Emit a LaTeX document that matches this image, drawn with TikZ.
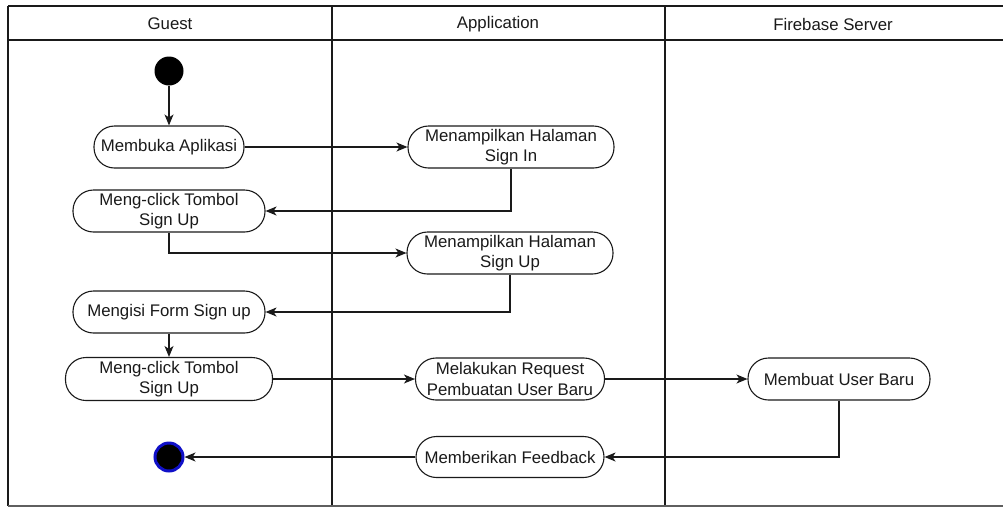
\documentclass[tikz,border=0pt]{standalone}
\usepackage{fontspec}
\setmainfont{Liberation Sans}
\usetikzlibrary{arrows.meta}
\definecolor{ink}{HTML}{1A1A1A}
\definecolor{ringblue}{HTML}{1010C8}
\begin{document}
\begin{tikzpicture}[x=1pt,y=-1pt,
  font=\fontsize{16.8}{20.5}\selectfont,
  every node/.style={text=ink},
  lane/.style={draw=ink,line width=1.3pt},
  act/.style={draw=ink,line width=1.1pt,rectangle,rounded corners=20.5pt,
    inner sep=0pt,minimum height=42pt,align=center,fill=white},
  flow/.style={draw=ink,line width=1.1pt,-{Stealth[length=11pt,width=9pt,inset=3pt]}},
  initial/.style={circle,fill=black,inner sep=0pt,minimum size=29pt},
  final/.style={circle,fill=black,draw=ringblue,line width=3pt,inner sep=0pt,minimum size=28pt}]
\useasboundingbox (0,0) rectangle (1003,507);

% swimlanes
\draw[lane] (8,6) -- (1003,6);
\draw[lane] (8,40) -- (1003,40);
\draw[lane] (8,6) -- (8,506);
\draw[lane] (332,6) -- (332,506);
\draw[lane] (665,6) -- (665,506);
\draw[draw=ink!70,line width=1.3pt] (8,506) -- (1003,506);
\node (hguest) at (170,24) {Guest};
\node (happ) at (498,24) {Application};
\node (hfb) at (833,24) {Firebase Server};

% activities
\node[initial] (start) at (169,71) {};
\node[act,minimum width=150pt] (membuka) at (169,147) {Membuka Aplikasi};
\node[act,minimum width=206pt] (signin) at (511,147) {Menampilkan Halaman\\Sign In};
\node[act,minimum width=192pt] (click1) at (169,211) {Meng-click Tombol\\Sign Up};
\node[act,minimum width=206pt] (signup) at (510,253) {Menampilkan Halaman\\Sign Up};
\node[act,minimum width=192pt] (mengisi) at (169,312) {Mengisi Form Sign up};
\node[act,minimum width=207pt,minimum height=43pt] (click2) at (169,379) {Meng-click Tombol\\Sign Up};
\node[act,minimum width=189pt] (request) at (510,379) {Melakukan Request\\Pembuatan User Baru};
\node[act,minimum width=182pt] (membuat) at (839,379) {Membuat User Baru};
\node[act,minimum width=188pt,minimum height=41pt] (feedback) at (510,457) {Memberikan Feedback};
\node[final] (end) at (169,457) {};

% control flow
\draw[flow] (start) -- (membuka);
\draw[flow] (membuka.east) -- (signin.west);
\draw[flow] (signin.south) |- (click1.east);
\draw[flow] (click1.south) |- (signup.west);
\draw[flow] (signup.south) |- (mengisi.east);
\draw[flow] (mengisi) -- (click2);
\draw[flow] (click2.east) -- (request.west);
\draw[flow] (request.east) -- (membuat.west);
\draw[flow] (membuat.south) |- (feedback.east);
\draw[flow] (feedback.west) -- (end);
\end{tikzpicture}
\end{document}
